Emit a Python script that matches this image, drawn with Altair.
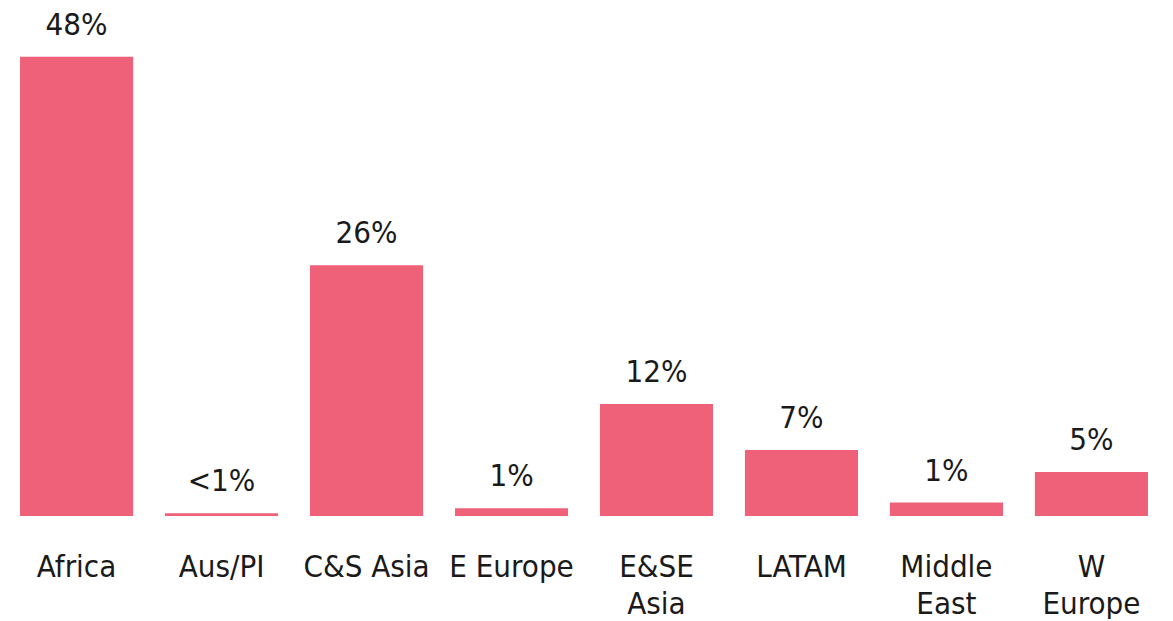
import altair as alt
import pandas as pd

regions = ["Africa", "Aus/PI", "C&S Asia", "E Europe", "E&SE\nAsia", "LATAM", "Middle\nEast", "W\nEurope"]
values = [48.0, 0.3, 26.2, 0.8, 11.7, 6.9, 1.4, 4.6]
labels = ["48%", "<1%", "26%", "1%", "12%", "7%", "1%", "5%"]

df = pd.DataFrame({"region": regions, "value": values, "label": labels})

FONT = "DejaVu Sans Condensed"
COLOR = "#EE6178"

x = alt.X(
    "region:N",
    sort=regions,
    title=None,
    scale=alt.Scale(paddingInner=0.22, paddingOuter=0.083),
    axis=alt.Axis(
        domain=False,
        ticks=False,
        grid=False,
        labelAngle=0,
        labelFont=FONT,
        labelFontSize=31,
        labelColor="#1a1a1a",
        labelPadding=36,
        labelLineHeight=37,
        labelExpr="split(datum.label, '\\n')",
        labelLimit=300,
    ),
)
y = alt.Y("value:Q", title=None, scale=alt.Scale(domain=[0, 53.1], nice=False), axis=None)

bars = alt.Chart(df).mark_bar(color=COLOR).encode(x=x, y=y)
text = alt.Chart(df).mark_text(
    font=FONT, fontSize=31, color="#1a1a1a", baseline="alphabetic", dy=-22
).encode(x=x, y=y, text="label:N")

chart = (
    alt.layer(bars, text)
    .properties(
        width=1152,
        height=508,
        padding=0,
        view=alt.ViewBackground(stroke="transparent", strokeWidth=0, fill="white"),
    )
    .configure_view(strokeWidth=0, stroke="transparent")
    .configure_axis(grid=False, domain=False)
    .configure(background="white")
)

chart.save("out.html", embed_options={"renderer": "svg", "actions": False})
